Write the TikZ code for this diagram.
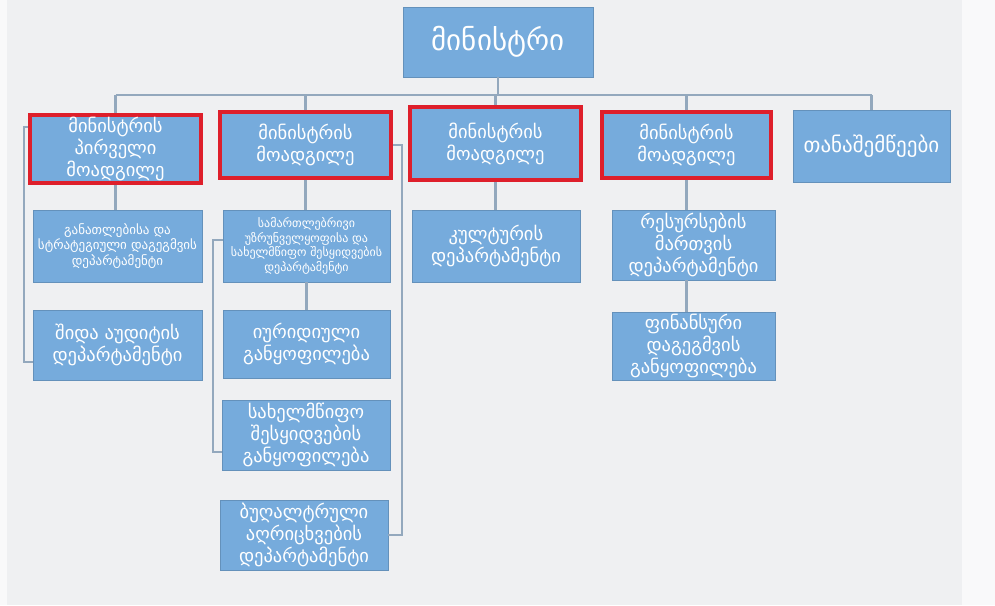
\documentclass[tikz,border=0pt]{standalone}
\usepackage{fontspec}
\newfontfamily\geo{DejaVu Sans}
\usepackage{xcolor}
\definecolor{boxblue}{HTML}{76ABDC}
\definecolor{framered}{HTML}{DE1F2B}
\definecolor{linegray}{HTML}{93A8BD}
\definecolor{pagegray}{HTML}{EFF0F2}

\begin{document}
\begin{tikzpicture}[x=1pt, y=-1pt,
	unit/.style={fill=boxblue, draw=boxblue!85!black, line width=0.4pt, text=white, align=center, inner sep=1pt, font=\geo\fontsize{18.5}{22}\selectfont},
	small/.style={unit, font=\geo\fontsize{12}{14.5}\selectfont},
	deputy/.style={unit, draw=framered, line width=3.5pt},
	link/.style={draw=linegray, line width=2.3pt}]
		\useasboundingbox (0,0) rectangle (995,605);
		\fill[pagegray] (0,0) rectangle (995,605);
		\fill[white!60!pagegray] (0,0) rectangle (7,605);
		\fill[white!60!pagegray] (962,0) rectangle (995,605);
		% top
		\node[unit, minimum width=190pt, minimum height=70pt, font=\geo\fontsize{29}{32}\selectfont] (min) at (498,42) {მინისტრი};
		% deputies
		\node[deputy, minimum width=171pt, minimum height=68pt] (dep1) at (115.5,149) {მინისტრის\\პირველი\\მოადგილე};
		\node[deputy, minimum width=171pt, minimum height=66pt] (dep2) at (305.5,145) {მინისტრის\\მოადგილე};
		\node[deputy, minimum width=171pt, minimum height=73pt] (dep3) at (495.5,143.5) {მინისტრის\\მოადგილე};
		\node[deputy, minimum width=169pt, minimum height=66pt] (dep4) at (686.5,145) {მინისტრის\\მოადგილე};
		\node[unit, minimum width=157pt, minimum height=72pt, font=\geo\fontsize{21}{24}\selectfont] (asst) at (871.5,146) {თანაშემწეები};
		% departments
		\node[small, minimum width=169pt, minimum height=72pt, font=\geo\fontsize{13}{15.5}\selectfont] (edu) at (117.5,246) {განათლებისა და\\სტრატეგიული დაგეგმვის\\დეპარტამენტი};
		\node[unit, minimum width=169pt, minimum height=70pt] (audit) at (117.5,345) {შიდა აუდიტის\\დეპარტამენტი};
		\node[small, minimum width=167pt, minimum height=72pt] (legal) at (306.5,246) {სამართლებრივი\\უზრუნველყოფისა და\\სახელმწიფო შესყიდვების\\დეპარტამენტი};
		\node[unit, minimum width=167pt, minimum height=68pt] (jur) at (306.5,344) {იურიდიული\\განყოფილება};
		\node[unit, minimum width=168pt, minimum height=70pt] (proc) at (306,435) {სახელმწიფო\\შესყიდვების\\განყოფილება};
		\node[unit, minimum width=168pt, minimum height=70pt] (acc) at (304,535) {ბუღალტრული\\აღრიცხვების\\დეპარტამენტი};
		\node[unit, minimum width=168pt, minimum height=72pt] (cult) at (496,246) {კულტურის\\დეპარტამენტი};
		\node[unit, minimum width=163pt, minimum height=70pt] (res) at (693.5,245) {რესურსების\\მართვის\\დეპარტამენტი};
		\node[unit, minimum width=163pt, minimum height=68pt] (fin) at (693.5,346) {ფინანსური\\დაგეგმვის\\განყოფილება};
		% bus
		\coordinate (busl) at (115.5,95);
		\coordinate (busr) at (871.5,95);
		\draw[link] (busl) -- (busr);
		\draw[link] (min.south) -- (min.south |- busl);
		\foreach \d in {dep1,dep2,dep3,dep4,asst}
			\draw[link] (\d.north |- busl) -- (\d.north);
		\draw[link] ([yshift=22pt]dep1.west) -- ++(-4,0) |- ([yshift=-17pt]audit.west);
		\draw[link] (dep1.south) -- (dep1.south |- edu.north);
		\draw[link] (dep2.south) -- (dep2.south |- legal.north);
		\draw[link] (legal.south) -- (jur.north);
		\draw[link] ([yshift=6pt]legal.west) -- ++(-10,0) |- ([yshift=-17pt]proc.west);
		\draw[link] (dep2.east) -- ++(9,0) |- (acc.east);
		\draw[link] (dep3.south) -- (dep3.south |- cult.north);
		\draw[link] (dep4.south) -- (dep4.south |- res.north);
		\draw[link] (dep4.south |- res.south) -- (dep4.south |- fin.north);
	\end{tikzpicture}
\end{document}
